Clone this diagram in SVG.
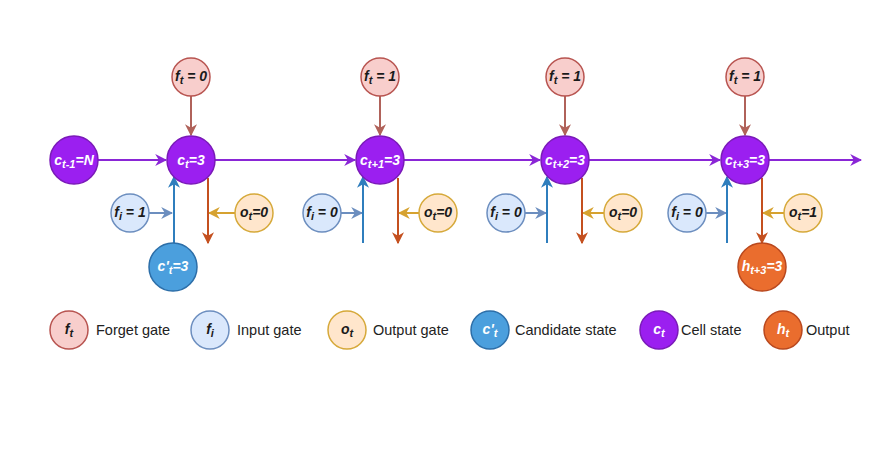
<svg xmlns="http://www.w3.org/2000/svg" width="896" height="476" viewBox="0 0 896 476">
<defs>
<style>
text{font-family:"Liberation Sans",Arial,sans-serif;}
.lbl{font-size:14px;font-weight:bold;font-style:italic;text-anchor:middle;}
.w{fill:#ffffff;}
.k{fill:#1a1a1a;}
.sub{font-size:11px;}
.leg{font-size:14.5px;fill:#222;}
.forget{fill:#f8cecc;stroke:#b85450;stroke-width:1.5;}
.input{fill:#dae8fc;stroke:#6c8ebf;stroke-width:1.5;}
.output{fill:#ffe6cc;stroke:#d6a93a;stroke-width:1.5;}
.cand{fill:#4b9fdd;stroke:#2c6ea8;stroke-width:1.5;}
.cell{fill:#9b1ff0;stroke:#7a1ab8;stroke-width:1.5;}
.hout{fill:#ea6d2e;stroke:#b9481e;stroke-width:1.5;}
.c{fill:none;stroke-width:2;}
</style>
<marker id="aP" viewBox="0 0 10 10" refX="9" refY="5" markerWidth="6" markerHeight="6" orient="auto" markerUnits="strokeWidth"><path d="M0,0 L10,5 L0,10 L3,5 z" fill="#8a26d6"/></marker>
<marker id="aF" viewBox="0 0 10 10" refX="9" refY="5" markerWidth="6" markerHeight="6" orient="auto" markerUnits="strokeWidth"><path d="M0,0 L10,5 L0,10 L3,5 z" fill="#b0625a"/></marker>
<marker id="aI" viewBox="0 0 10 10" refX="9" refY="5" markerWidth="6" markerHeight="6" orient="auto" markerUnits="strokeWidth"><path d="M0,0 L10,5 L0,10 L3,5 z" fill="#6c8ebf"/></marker>
<marker id="aO" viewBox="0 0 10 10" refX="9" refY="5" markerWidth="6" markerHeight="6" orient="auto" markerUnits="strokeWidth"><path d="M0,0 L10,5 L0,10 L3,5 z" fill="#d6a230"/></marker>
<marker id="aB" viewBox="0 0 10 10" refX="9" refY="5" markerWidth="6" markerHeight="6" orient="auto" markerUnits="strokeWidth"><path d="M0,0 L10,5 L0,10 L3,5 z" fill="#2f7ebd"/></marker>
<marker id="aR" viewBox="0 0 10 10" refX="9" refY="5" markerWidth="6" markerHeight="6" orient="auto" markerUnits="strokeWidth"><path d="M0,0 L10,5 L0,10 L3,5 z" fill="#c4501f"/></marker>
</defs>
<rect width="896" height="476" fill="#ffffff"/>
<g id="connectors">
<g stroke="#8a26d6" class="c" marker-end="url(#aP)">
<line x1="98" y1="160" x2="166" y2="160"/>
<line x1="215" y1="160" x2="355" y2="160"/>
<line x1="404" y1="160" x2="540" y2="160"/>
<line x1="589" y1="160" x2="720" y2="160"/>
<line x1="769" y1="160" x2="861" y2="160"/>
</g>
<g stroke="#b0625a" class="c" marker-end="url(#aF)">
<line x1="191" y1="96" x2="191" y2="135"/>
<line x1="380" y1="96" x2="380" y2="135"/>
<line x1="565" y1="96" x2="565" y2="135"/>
<line x1="745" y1="96" x2="745" y2="135"/>
</g>
<g stroke="#6c8ebf" class="c" marker-end="url(#aI)">
<line x1="149" y1="213" x2="172" y2="213"/>
<line x1="341" y1="213" x2="362" y2="213"/>
<line x1="525" y1="213" x2="546" y2="213"/>
<line x1="706" y1="213" x2="726" y2="213"/>
</g>
<g stroke="#d6a230" class="c" marker-end="url(#aO)">
<line x1="235" y1="213" x2="209" y2="213"/>
<line x1="419" y1="213" x2="399" y2="213"/>
<line x1="604" y1="213" x2="583" y2="213"/>
<line x1="784" y1="213" x2="763" y2="213"/>
</g>
<g stroke="#2f7ebd" class="c" marker-end="url(#aB)">
<line x1="174" y1="243" x2="174" y2="177"/>
<line x1="363" y1="243" x2="363" y2="177"/>
<line x1="547" y1="243" x2="547" y2="177"/>
<line x1="727" y1="243" x2="727" y2="177"/>
</g>
<g stroke="#c4501f" class="c" marker-end="url(#aR)">
<line x1="208" y1="178" x2="208" y2="243"/>
<line x1="398" y1="178" x2="398" y2="243"/>
<line x1="582" y1="178" x2="582" y2="243"/>
<line x1="762" y1="178" x2="762" y2="243"/>
</g>
</g>
<g id="c_tm1"><circle class="cell" cx="74" cy="160" r="24"/><text class="lbl w" x="74" y="165">c<tspan class="sub" dy="3">t-1</tspan><tspan dy="-3">=N</tspan></text></g>
<g id="c_t"><circle class="cell" cx="191" cy="160" r="24"/><text class="lbl w" x="191" y="165">c<tspan class="sub" dy="3">t</tspan><tspan dy="-3">=3</tspan></text></g>
<g id="c_t1"><circle class="cell" cx="380" cy="160" r="24"/><text class="lbl w" x="380" y="165">c<tspan class="sub" dy="3">t+1</tspan><tspan dy="-3">=3</tspan></text></g>
<g id="c_t2"><circle class="cell" cx="565" cy="160" r="24"/><text class="lbl w" x="565" y="165">c<tspan class="sub" dy="3">t+2</tspan><tspan dy="-3">=3</tspan></text></g>
<g id="c_t3"><circle class="cell" cx="745" cy="160" r="24"/><text class="lbl w" x="745" y="165">c<tspan class="sub" dy="3">t+3</tspan><tspan dy="-3">=3</tspan></text></g>
<g id="f_t0"><circle class="forget" cx="191" cy="77" r="19"/><text class="lbl k" x="191" y="81">f<tspan class="sub" dy="3">t</tspan><tspan dy="-3"> = 0</tspan></text></g>
<g id="f_t1"><circle class="forget" cx="380" cy="77" r="19"/><text class="lbl k" x="380" y="81">f<tspan class="sub" dy="3">t</tspan><tspan dy="-3"> = 1</tspan></text></g>
<g id="f_t2"><circle class="forget" cx="565" cy="77" r="19"/><text class="lbl k" x="565" y="81">f<tspan class="sub" dy="3">t</tspan><tspan dy="-3"> = 1</tspan></text></g>
<g id="f_t3"><circle class="forget" cx="745" cy="77" r="19"/><text class="lbl k" x="745" y="81">f<tspan class="sub" dy="3">t</tspan><tspan dy="-3"> = 1</tspan></text></g>
<g id="i_0"><circle class="input" cx="130" cy="213" r="19"/><text class="lbl k" x="130" y="217">f<tspan class="sub" dy="3">i</tspan><tspan dy="-3"> = 1</tspan></text></g>
<g id="i_1"><circle class="input" cx="322" cy="213" r="19"/><text class="lbl k" x="322" y="217">f<tspan class="sub" dy="3">i</tspan><tspan dy="-3"> = 0</tspan></text></g>
<g id="i_2"><circle class="input" cx="506" cy="213" r="19"/><text class="lbl k" x="506" y="217">f<tspan class="sub" dy="3">i</tspan><tspan dy="-3"> = 0</tspan></text></g>
<g id="i_3"><circle class="input" cx="687" cy="213" r="19"/><text class="lbl k" x="687" y="217">f<tspan class="sub" dy="3">i</tspan><tspan dy="-3"> = 0</tspan></text></g>
<g id="o_0"><circle class="output" cx="254" cy="213" r="19"/><text class="lbl k" x="254" y="217">o<tspan class="sub" dy="3">t</tspan><tspan dy="-3">=0</tspan></text></g>
<g id="o_1"><circle class="output" cx="438" cy="213" r="19"/><text class="lbl k" x="438" y="217">o<tspan class="sub" dy="3">t</tspan><tspan dy="-3">=0</tspan></text></g>
<g id="o_2"><circle class="output" cx="623" cy="213" r="19"/><text class="lbl k" x="623" y="217">o<tspan class="sub" dy="3">t</tspan><tspan dy="-3">=0</tspan></text></g>
<g id="o_3"><circle class="output" cx="803" cy="213" r="19"/><text class="lbl k" x="803" y="217">o<tspan class="sub" dy="3">t</tspan><tspan dy="-3">=1</tspan></text></g>
<g id="cand"><circle class="cand" cx="173" cy="267" r="24"/><text class="lbl w" x="173" y="271">c'<tspan class="sub" dy="3">t</tspan><tspan dy="-3">=3</tspan></text></g>
<g id="h_t3"><circle class="hout" cx="762" cy="267" r="24"/><text class="lbl w" x="762" y="271">h<tspan class="sub" dy="3">t+3</tspan><tspan dy="-3">=3</tspan></text></g>
<g id="legend">
<circle class="forget" cx="69" cy="330" r="19"/><text class="lbl k" x="69" y="334">f<tspan class="sub" dy="3">t</tspan></text><text class="leg" x="96" y="335">Forget gate</text>
<circle class="input" cx="210" cy="330" r="19"/><text class="lbl k" x="210" y="334">f<tspan class="sub" dy="3">i</tspan></text><text class="leg" x="237" y="335">Input gate</text>
<circle class="output" cx="347" cy="330" r="19"/><text class="lbl k" x="347" y="334">o<tspan class="sub" dy="3">t</tspan></text><text class="leg" x="373" y="335">Output gate</text>
<circle class="cand" cx="490" cy="330" r="19"/><text class="lbl w" x="490" y="334">c'<tspan class="sub" dy="3">t</tspan></text><text class="leg" x="515" y="335">Candidate state</text>
<circle class="cell" cx="659" cy="330" r="19"/><text class="lbl w" x="659" y="334">c<tspan class="sub" dy="3">t</tspan></text><text class="leg" x="681" y="335">Cell state</text>
<circle class="hout" cx="783" cy="330" r="19"/><text class="lbl w" x="783" y="334">h<tspan class="sub" dy="3">t</tspan></text><text class="leg" x="806" y="335">Output</text>
</g>
</svg>
